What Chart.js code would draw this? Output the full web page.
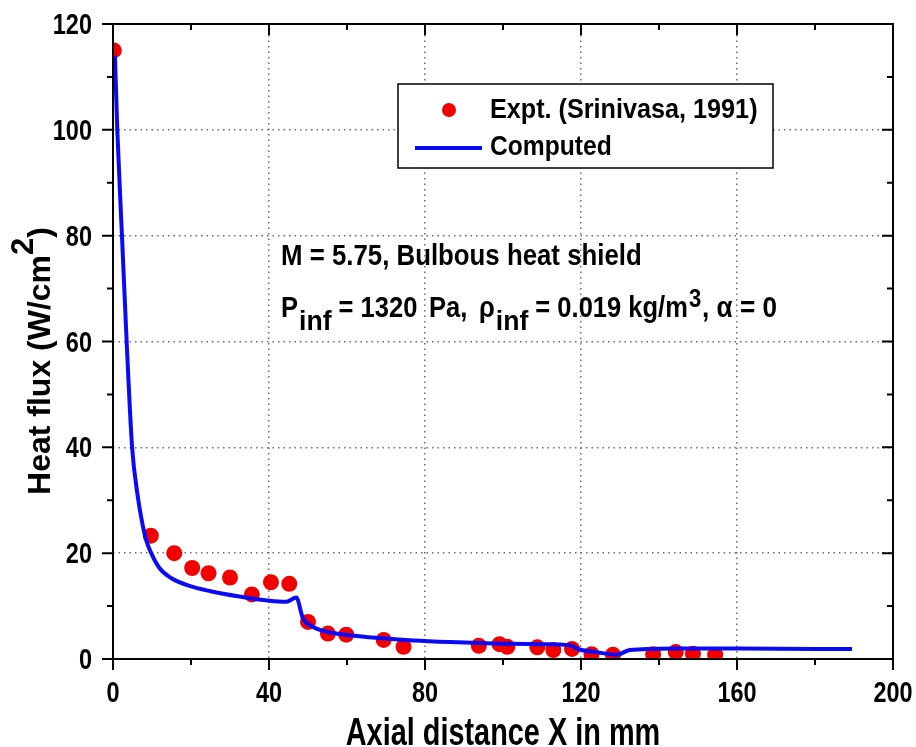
<!DOCTYPE html>
<html>
<head>
<meta charset="utf-8">
<script src="https://cdn.jsdelivr.net/npm/chart.js@4.4.1/dist/chart.umd.min.js"></script>
<style>
  html, body { margin: 0; padding: 0; background: #fff; }
  #chart { display: block; }
</style>
</head>
<body>
<canvas id="chart" width="916" height="747"></canvas>
<script>
// Experimental points (Srinivasa, 1991)
const exptX = [0.2, 9.7, 15.7, 20.3, 24.5, 30.0, 35.6, 40.5, 45.2, 50.0, 55.1, 59.8, 69.4, 74.5,
  93.8, 99.1, 101.1, 108.8, 112.9, 117.7, 122.7, 128.2, 138.5, 144.3, 148.7, 154.4];
const exptY = [115, 23.3, 20.0, 17.2, 16.2, 15.4, 12.2, 14.5, 14.2, 7.0, 4.8, 4.6, 3.6, 2.3,
  2.5, 2.8, 2.3, 2.2, 1.7, 1.9, 0.9, 0.8, 0.9, 1.3, 1.0, 0.8];

// Computed curve
const compX = [0.5, 1.1, 2.3, 3.5, 4.9, 6.3, 7.3, 8.5, 9.8, 11.9, 14.9, 19.6, 25.0, 32.4, 40.1,
  44.4, 47.0, 48.7, 51.2, 56.4, 62.0, 69.2, 77.0, 86.3, 100.0, 110.0, 117.1, 119.6, 124.0,
  129.1, 132.5, 143.5, 160.7, 180.4, 189.5];
const compY = [114, 100, 80, 60, 40, 31, 26.5, 22.5, 20.0, 17.2, 15.3, 13.8, 12.8, 11.8, 11.0,
  10.8, 11.6, 7.7, 6.1, 4.9, 4.4, 3.9, 3.5, 3.2, 2.9, 2.8, 2.6, 1.8, 1.3,
  0.8, 1.7, 2.0, 2.0, 1.9, 1.9];

const xLabelTicks = [0, 40, 80, 120, 160, 200];
const yLabelTicks = [0, 20, 40, 60, 80, 100, 120];

const RED = "#f20000";
const BLUE = "#0a0af5";
const SANS = '"Liberation Sans", Arial, sans-serif';

function toPoints(xs, ys) {
  return xs.map((x, i) => ({ x: x, y: ys[i] }));
}

// bold text squeezed horizontally (the original uses a narrow bold face)
function squeezed(ctx, text, x, y, size, sx, align) {
  ctx.save();
  ctx.font = "bold " + size + "px " + SANS;
  const w = ctx.measureText(text).width * sx;
  let x0 = x;
  if (align === "center") x0 = x - w / 2;
  if (align === "right") x0 = x - w;
  ctx.translate(x0, y);
  ctx.scale(sx, 1);
  ctx.textAlign = "left";
  ctx.textBaseline = "alphabetic";
  ctx.fillText(text, 0, 0);
  ctx.restore();
  return w;
}

// frame, ticks on all four sides, tick labels and x title
const framePlugin = {
  id: "frame",
  afterDatasetsDraw(chart) {
    const { ctx, chartArea: a, scales } = chart;
    ctx.save();
    ctx.strokeStyle = "#000";
    ctx.lineWidth = 2;
    ctx.strokeRect(a.left, a.top, a.right - a.left, a.bottom - a.top);
    ctx.beginPath();
    scales.x.ticks.forEach((t) => {
      const px = scales.x.getPixelForValue(t.value);
      const len = xLabelTicks.includes(t.value) ? 11 : 6;
      ctx.moveTo(px, a.bottom); ctx.lineTo(px, a.bottom + len);
      ctx.moveTo(px, a.top); ctx.lineTo(px, a.top + len);
    });
    scales.y.ticks.forEach((t) => {
      const py = scales.y.getPixelForValue(t.value);
      const len = yLabelTicks.includes(t.value) ? 11 : 6;
      ctx.moveTo(a.left, py); ctx.lineTo(a.left - len, py);
      ctx.moveTo(a.right, py); ctx.lineTo(a.right - len, py);
    });
    ctx.stroke();

    ctx.fillStyle = "#000";
    scales.x.ticks.forEach((t) => {
      if (!xLabelTicks.includes(t.value)) return;
      squeezed(ctx, String(t.value), scales.x.getPixelForValue(t.value), a.bottom + 43, 29, 0.81, "center");
    });
    scales.y.ticks.forEach((t) => {
      if (!yLabelTicks.includes(t.value)) return;
      squeezed(ctx, String(t.value), a.left - 21, scales.y.getPixelForValue(t.value) + 10, 29, 0.81, "right");
    });
    squeezed(ctx, scales.x.options.title.text, (a.left + a.right) / 2, 745, 38, 0.76, "center");
    ctx.restore();
  },
};

// legend box, annotations and y axis title
const textPlugin = {
  id: "texts",
  afterDraw(chart) {
    const ctx = chart.ctx;
    const ds = chart.data.datasets;
    ctx.save();

    // legend
    ctx.fillStyle = "#fff";
    ctx.fillRect(398, 84, 375, 84);
    ctx.strokeStyle = "#000";
    ctx.lineWidth = 1.5;
    ctx.strokeRect(398, 84, 375, 84);
    ctx.fillStyle = ds[1].backgroundColor;
    ctx.beginPath();
    ctx.arc(449, 110, 7, 0, Math.PI * 2);
    ctx.fill();
    ctx.strokeStyle = ds[0].borderColor;
    ctx.lineWidth = 4;
    ctx.beginPath();
    ctx.moveTo(415, 148); ctx.lineTo(482, 148);
    ctx.stroke();
    ctx.fillStyle = "#000";
    squeezed(ctx, ds[1].label, 490, 118, 28, 0.9);
    squeezed(ctx, ds[0].label, 490, 155, 28, 0.88);

    // annotations
    squeezed(ctx, "M = 5.75, Bulbous heat shield", 281, 265, 29, 0.89);
    const base = 317;
    let x = 281;
    x += squeezed(ctx, "P", x, base, 29, 0.88) + 1;
    x += squeezed(ctx, "inf", x, base + 13, 28, 0.95);
    squeezed(ctx, " = 1320", x, base, 29, 0.88);
    x = 429;
    x += squeezed(ctx, "Pa, ", x, base, 29, 0.88);
    x = 479;
    x += squeezed(ctx, "\u03C1", x, base, 29, 0.88) + 1;
    x += squeezed(ctx, "inf", x, base + 13, 28, 0.95);
    x += squeezed(ctx, " = 0.019 kg/m", x, base, 29, 0.88) + 1;
    x += squeezed(ctx, "3", x, base - 10, 25, 0.88) + 1;
    squeezed(ctx, ", \u03B1 = 0", x, base, 29, 0.9);

    // y axis title, rotated, with superscript
    ctx.fillStyle = "#000";
    ctx.translate(50, 361);
    ctx.rotate(-Math.PI / 2);
    ctx.textBaseline = "alphabetic";
    ctx.font = "bold 32px " + SANS;
    const t1 = "Heat flux (W/cm";
    const w1 = ctx.measureText(t1).width;
    const w3 = ctx.measureText(")").width;
    ctx.font = "bold 31px " + SANS;
    const w2 = ctx.measureText("2").width;
    const sx = -(w1 + w2 + w3) / 2;
    ctx.font = "bold 32px " + SANS;
    ctx.fillText(t1, sx, 0);
    ctx.font = "bold 31px " + SANS;
    ctx.fillText("2", sx + w1, -17);
    ctx.font = "bold 32px " + SANS;
    ctx.fillText(")", sx + w1 + w2, 0);
    ctx.restore();
  },
};

function gridColor(labels, lo, hi) {
  return (c) => {
    const v = c.tick ? c.tick.value : null;
    return labels.includes(v) && v > lo && v < hi ? "#6e6e6e" : "rgba(0,0,0,0)";
  };
}

function fixBox(size, key) {
  return (s) => {
    s[key] = size;
    s.paddingLeft = 0; s.paddingRight = 0; s.paddingTop = 0; s.paddingBottom = 0;
  };
}

new Chart(document.getElementById("chart"), {
  type: "scatter",
  data: {
    datasets: [
      {
        label: "Computed",
        data: toPoints(compX, compY),
        showLine: true,
        borderColor: BLUE,
        backgroundColor: BLUE,
        borderWidth: 4,
        pointRadius: 0,
        cubicInterpolationMode: "monotone",
        order: 0,
        clip: 0,
      },
      {
        label: "Expt. (Srinivasa, 1991)",
        data: toPoints(exptX, exptY),
        backgroundColor: RED,
        borderColor: RED,
        borderWidth: 0,
        pointRadius: 8,
        order: 1,
        clip: 0,
      },
    ],
  },
  options: {
    responsive: false,
    animation: false,
    layout: { padding: { top: 24, right: 23, left: 0, bottom: 0 } },
    plugins: { legend: { display: false }, tooltip: { enabled: false } },
    scales: {
      x: {
        type: "linear",
        min: 0,
        max: 200,
        afterFit: fixBox(88, "height"),
        ticks: { stepSize: 20, autoSkip: false, display: false },
        grid: { color: gridColor(xLabelTicks, 0, 200), lineWidth: 1.5, drawTicks: false },
        border: { display: false, dash: [1.5, 4] },
        title: { display: false, text: "Axial distance X in mm" },
      },
      y: {
        type: "linear",
        min: 0,
        max: 120,
        afterFit: fixBox(113, "width"),
        ticks: { stepSize: 10, autoSkip: false, display: false },
        grid: { color: gridColor(yLabelTicks, 0, 120), lineWidth: 1.5, drawTicks: false },
        border: { display: false, dash: [1.5, 4] },
      },
    },
  },
  plugins: [framePlugin, textPlugin],
});
</script>
</body>
</html>
